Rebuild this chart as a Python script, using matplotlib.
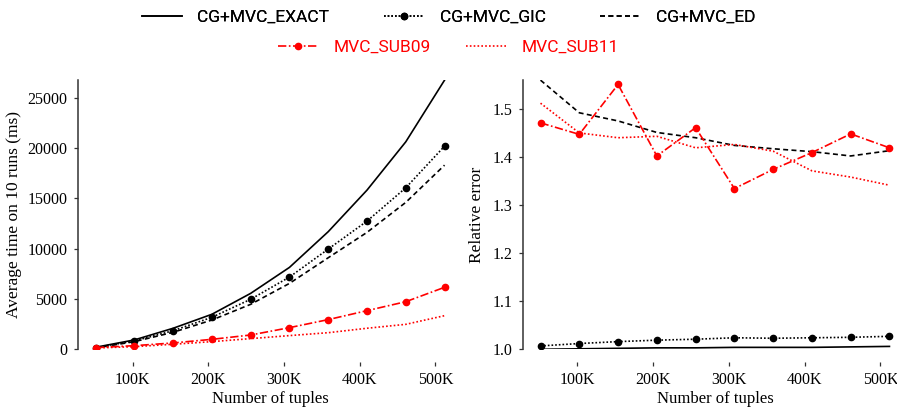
import numpy as np
import matplotlib.pyplot as plt
from matplotlib.lines import Line2D

# number of tuples (51.2K steps)
tuples = [51200, 102400, 153600, 204800, 256000, 307200, 358400, 409600, 460800, 512000]

# average time on 10 runs (ms)
time_exact = [200, 930, 2090, 3480, 5560, 8140, 11690, 15820, 20620, 26750]
time_gic = [165, 830, 1850, 3180, 4970, 7180, 9960, 12740, 16050, 20190]
time_ed = [130, 760, 1690, 2910, 4470, 6550, 9100, 11620, 14600, 18300]
time_sub09 = [165, 360, 630, 990, 1420, 2150, 2950, 3840, 4730, 6160]
time_sub11 = [130, 260, 500, 760, 1060, 1360, 1650, 2090, 2480, 3340]

# relative error
err_exact = [1.000, 1.001, 1.002, 1.003, 1.003, 1.004, 1.004, 1.004, 1.005, 1.006]
err_gic = [1.007, 1.012, 1.016, 1.019, 1.021, 1.024, 1.023, 1.024, 1.025, 1.027]
err_ed = [1.561, 1.493, 1.476, 1.452, 1.441, 1.425, 1.418, 1.412, 1.403, 1.414]
err_sub09 = [1.472, 1.448, 1.552, 1.403, 1.462, 1.335, 1.375, 1.410, 1.449, 1.420]
err_sub11 = [1.513, 1.451, 1.441, 1.444, 1.420, 1.427, 1.413, 1.372, 1.359, 1.342]

labels = ['CG+MVC_EXACT', 'CG+MVC_GIC', 'CG+MVC_ED', 'MVC_SUB09', 'MVC_SUB11']

plt.rcParams['font.family'] = ['Liberation Serif', 'DejaVu Serif']
plt.rcParams['font.size'] = 11.5

styles = [
    dict(color='black', linestyle='-', lw=1.2),
    dict(color='black', linestyle=(0, (1, 1.2)), lw=1.2, marker='o', ms=4.5),
    dict(color='black', linestyle=(0, (3, 2)), lw=1.2),
    dict(color='red', linestyle=(0, (5, 1.5, 1, 1.5)), lw=1.2, marker='o', ms=4.5),
    dict(color='red', linestyle=(0, (1, 1.3)), lw=1.2),
]

fig = plt.figure(figsize=(8.97, 4.09), dpi=100)
ax1 = fig.add_axes([0.087, 0.146, 0.428, 0.658])
ax2 = fig.add_axes([0.583, 0.146, 0.428, 0.658])

for series, st in zip([time_exact, time_gic, time_ed, time_sub09, time_sub11], styles):
    ax1.plot(tuples, series, **st)
for series, st in zip([err_exact, err_gic, err_ed, err_sub09, err_sub11], styles):
    ax2.plot(tuples, series, **st)

ax1.set_ylim(0, max(time_exact))
ax2.set_ylim(1.0, max(err_ed))
ax1.set_yticks([0, 5000, 10000, 15000, 20000, 25000])
ax2.set_yticks([1.0, 1.1, 1.2, 1.3, 1.4, 1.5])
ax2.set_yticklabels(['1.0', '1.1', '1.2', '1.3', '1.4', '1.5'])

for ax in (ax1, ax2):
    ax.set_xlim(28000, 535000)
    ax.set_xticks([100000, 200000, 300000, 400000, 500000])
    ax.set_xticklabels(['100K', '200K', '300K', '400K', '500K'])
    for s in ('top', 'right'):
        ax.spines[s].set_visible(False)
    ax.spines['bottom'].set_position(('outward', 9))
    ax.spines['bottom'].set_visible(False)
    ax.spines['left'].set_color('#333333')
    ax.spines['left'].set_linewidth(1.1)
    ax.tick_params(length=3.2, width=0.9, color='#333333', pad=4.5, labelsize=11.5)
    ax.set_xlabel('Number of tuples', labelpad=2, fontsize=12)

ax1.set_ylabel('Average time on 10 runs (ms)', labelpad=4, fontsize=12.5)
ax2.set_ylabel('Relative error', labelpad=5, fontsize=12.5)

handles = [Line2D([], [], **st) for st in styles]
leg_font = {'family': ['Roboto', 'DejaVu Sans'], 'size': 12.5}
leg1 = fig.legend(handles[:3], labels[:3], loc='center', bbox_to_anchor=(0.5, 0.958),
                  ncol=3, frameon=False, prop=leg_font, handlelength=2.3,
                  handletextpad=0.9, columnspacing=3.15)
leg2 = fig.legend(handles[3:], labels[3:], loc='center', bbox_to_anchor=(0.5, 0.885),
                  ncol=2, frameon=False, prop=leg_font, handlelength=2.3,
                  handletextpad=0.9, columnspacing=2.0)
for t in leg2.get_texts():
    t.set_color('red')
fig.add_artist(leg1)

fig.savefig('out.png', dpi=100)
